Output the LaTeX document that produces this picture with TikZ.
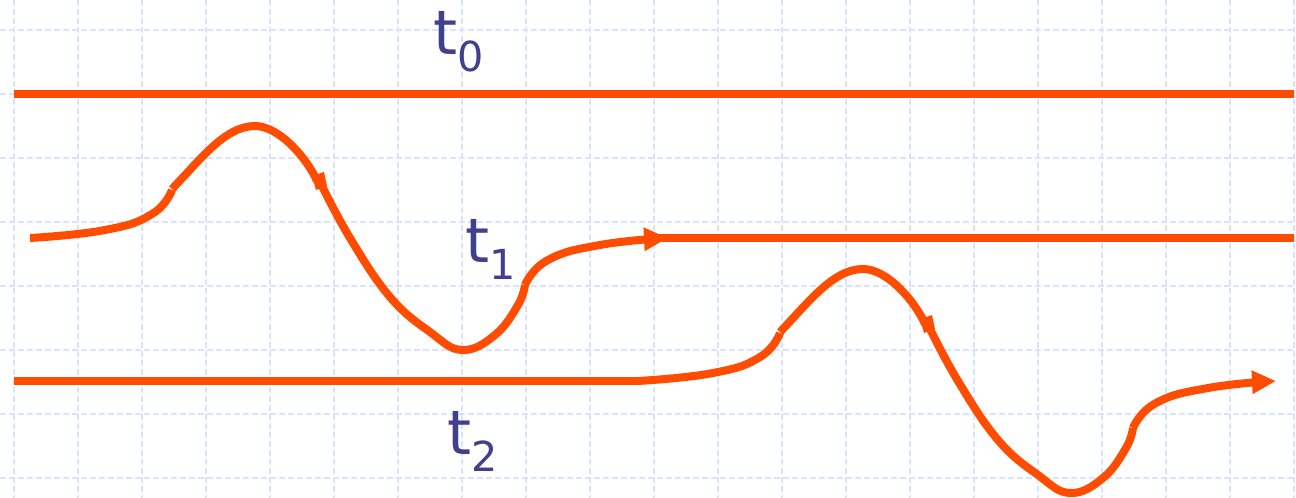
\documentclass[tikz,border=0pt]{standalone}
\usepackage{fontspec}
\setmainfont{DejaVu Sans}
\usetikzlibrary{arrows.meta}
\definecolor{wirec}{RGB}{255,76,0}
\definecolor{grdc}{RGB}{218,227,252}
\definecolor{lblc}{RGB}{64,64,140}
\newcommand\tlab[1]{{\fontsize{46}{50}\selectfont t}\raisebox{-12.75pt}{\fontsize{31}{34}\selectfont #1}}
\newcommand\wavepath{%
  \draw[wire] plot[smooth,tension=0.8] coordinates {(30,238) (105,230) (152,214) (172,190)};
  \draw[wire] (172,189) .. controls (200,160) and (225,126) .. (255,126) .. controls (280,126) and (308,160) .. (317,181);
  \fill[wirec] (312,176) -- (324,172) -- (327,186) -- (316,190) -- cycle;
  \draw[wire] plot[smooth,tension=0.7] coordinates {(320,182) (350,238) (390,297) (430,332) (462,350) (495,335) (518,305) (525,285)};
  \draw[wire,-{Triangle[length=18pt,width=16.5pt]}] plot[smooth,tension=0.8] coordinates {(525,285) (548,260) (600,245) (668,238)};
}
\begin{document}
\begin{tikzpicture}[x=0.75pt,y=-0.75pt,
  wire/.style={draw=wirec,line width=6pt},
  gridline/.style={draw=grdc,line width=1.3pt,dash pattern=on 4.5pt off 2.25pt},
  tlabel/.style={anchor=base west,inner sep=0pt,text=lblc}]
\useasboundingbox (0,0) rectangle (1296,498);
\fill[white] (0,0) rectangle (1296,498);
\foreach \i in {0,...,20} \draw[gridline] (14+64*\i,0) -- (14+64*\i,498);
\foreach \j in {0,...,7} \draw[gridline] (0,30+64*\j) -- (1296,30+64*\j);
% straight lines
\coordinate (a0) at (14,94);
\coordinate (b0) at (1294,94);
\coordinate (a1) at (655,238);
\coordinate (b1) at (1294,238);
\coordinate (a2) at (14,381);
\coordinate (b2) at (640,381);
\draw[wire] (a0) -- (b0);
\draw[wire] (a1) -- (b1);
\draw[wire] (a2) -- (b2);
% waves
\wavepath
\begin{scope}[shift={(608,143)}]
\wavepath
\end{scope}
% labels
\node[tlabel] (t0) at (433,55) {\tlab{0}};
\node[tlabel] (t1) at (465,263) {\tlab{1}};
\node[tlabel] (t2) at (447,455) {\tlab{2}};
\end{tikzpicture}
\end{document}
